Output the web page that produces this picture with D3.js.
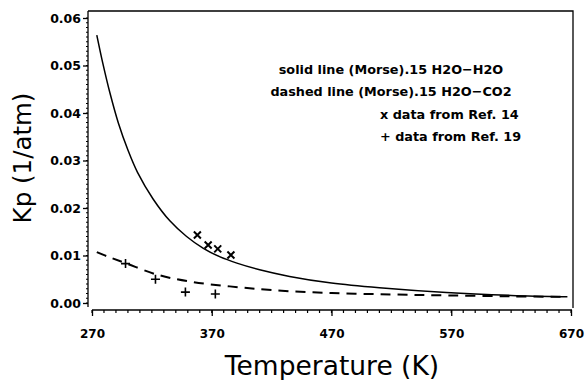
<!DOCTYPE html>
<html>
<head>
<meta charset="utf-8">
<script src="https://cdn.jsdelivr.net/npm/d3@7"></script>
<style>
body { margin: 0; background: #fff; }
text { font-family: "DejaVu Sans", sans-serif; fill: #000; }
</style>
</head>
<body>
<svg id="chart" width="586" height="380"></svg>
<script>
// values
var solidT  = [274, 279, 285, 292, 300, 308, 321, 335, 349, 363, 377, 391, 410, 435, 470, 510, 566, 620, 667];
var solidKp = [0.0564, 0.0505, 0.0442, 0.0379, 0.0322, 0.0275, 0.0219, 0.0173, 0.0140, 0.0115, 0.0097, 0.0084,
               0.0070, 0.0056, 0.0042, 0.0032, 0.0022, 0.0016, 0.0013];

var dashT  = [274, 285, 299, 324, 352, 385, 421, 470, 520, 566, 620, 667];
var dashKp = [0.0107, 0.0096, 0.0083, 0.0060, 0.0045, 0.0035, 0.0027, 0.0021, 0.0018, 0.0016, 0.0014, 0.0013];

var ref14T  = [358, 367, 375, 386];
var ref14Kp = [0.0143, 0.0122, 0.0114, 0.0101];

var ref19T  = [298, 323, 348, 373];
var ref19Kp = [0.0083, 0.0050, 0.0023, 0.0019];

var xTicks = [270, 370, 470, 570, 670];
var yTicks = [0.00, 0.01, 0.02, 0.03, 0.04, 0.05, 0.06];

var legendLines = ["solid line (Morse).15 H2O\u2212H2O", "dashed line (Morse).15 H2O\u2212CO2",
                   "x data from Ref. 14", "+ data from Ref. 19"];

var svg = d3.select("#chart");

var x = d3.scaleLinear().domain([270, 670]).range([92, 571]);
var y = d3.scaleLinear().domain([0, 0.06]).range([303, 18]);

function pts(ts, ks){
    return ts.map(function(t, i){ return [t, ks[i]]; });
}

// frame: top and right lines
svg.append("path").attr("d", "M88,11H573V308")
   .attr("fill", "none").attr("stroke", "#000").attr("stroke-width", 1.3);

// y axis with minor ticks every 0.001
var yAxis = svg.append("g").attr("transform", "translate(88,0)")
    .call(d3.axisLeft(y).tickValues(yTicks).tickFormat(d3.format(".2f")).tickSize(5).tickPadding(2));
yAxis.select(".domain").attr("d", "M0,11V307");
yAxis.selectAll("line, path").attr("stroke-width", 1.3);
yAxis.selectAll("text").attr("font-size", 12.5).attr("font-weight", "bold").attr("font-family", "DejaVu Sans");
svg.append("g").selectAll("line").data(d3.range(0, 61).map(function(d){ return d/1000; }))
   .enter().append("line")
   .attr("x1", 86).attr("x2", 88)
   .attr("y1", function(d){ return y(d); }).attr("y2", function(d){ return y(d); })
   .attr("stroke", "#000").attr("stroke-width", 1);

// x axis below, minor ticks every 10 K
var xAxis = svg.append("g").attr("transform", "translate(0,310)")
    .call(d3.axisBottom(x).tickValues(xTicks).tickSize(6).tickPadding(13));
xAxis.select(".domain").attr("d", "M92,0H572");
xAxis.selectAll("line, path").attr("stroke-width", 1.3);
xAxis.selectAll("text").attr("font-size", 12).attr("font-weight", "bold").attr("font-family", "DejaVu Sans");
svg.append("g").selectAll("line").data(d3.range(270, 671, 10))
   .enter().append("line")
   .attr("x1", function(d){ return x(d); }).attr("x2", function(d){ return x(d); })
   .attr("y1", 310).attr("y2", 313)
   .attr("stroke", "#000").attr("stroke-width", 1.2);

var line = d3.line()
    .x(function(d){ return x(d[0]); })
    .y(function(d){ return y(d[1]); })
    .curve(d3.curveCatmullRom.alpha(0.5));

svg.append("path").datum(pts(solidT, solidKp)).attr("d", line)
   .attr("fill", "none").attr("stroke", "#000").attr("stroke-width", 1.5);

svg.append("path").datum(pts(dashT, dashKp)).attr("d", line)
   .attr("fill", "none").attr("stroke", "#000").attr("stroke-width", 2)
   .attr("stroke-dasharray", "10,7");

// x markers (Ref. 14)
svg.append("g").selectAll("path").data(pts(ref14T, ref14Kp))
   .enter().append("path")
   .attr("transform", function(d){ return "translate(" + x(d[0]) + "," + y(d[1]) + ")"; })
   .attr("d", "M-3.5,-3.5L3.5,3.5M-3.5,3.5L3.5,-3.5")
   .attr("stroke", "#000").attr("stroke-width", 2);

// + markers (Ref. 19)
svg.append("g").selectAll("path").data(pts(ref19T, ref19Kp))
   .enter().append("path")
   .attr("transform", function(d){ return "translate(" + x(d[0]) + "," + y(d[1]) + ")"; })
   .attr("d", "M-4.5,0H4.5M0,-4.5V4.5")
   .attr("stroke", "#000").attr("stroke-width", 1.6);

// legend text
var legPos = [[391, 74, "middle"], [391, 96, "middle"], [380, 119, "start"], [380, 141, "start"]];
svg.append("g").selectAll("text").data(legendLines)
   .enter().append("text")
   .attr("x", function(d, i){ return legPos[i][0]; })
   .attr("y", function(d, i){ return legPos[i][1]; })
   .attr("text-anchor", function(d, i){ return legPos[i][2]; })
   .attr("font-size", 12.8).attr("font-weight", "bold")
   .text(function(d){ return d; });

// axis titles
svg.append("text").attr("x", 332).attr("y", 375).attr("text-anchor", "middle")
   .attr("font-size", 26.5).text("Temperature (K)");
svg.append("text").attr("transform", "translate(31,158) rotate(-90)").attr("text-anchor", "middle")
   .attr("font-size", 24.5).text("Kp (1/atm)");
</script>
</body>
</html>
